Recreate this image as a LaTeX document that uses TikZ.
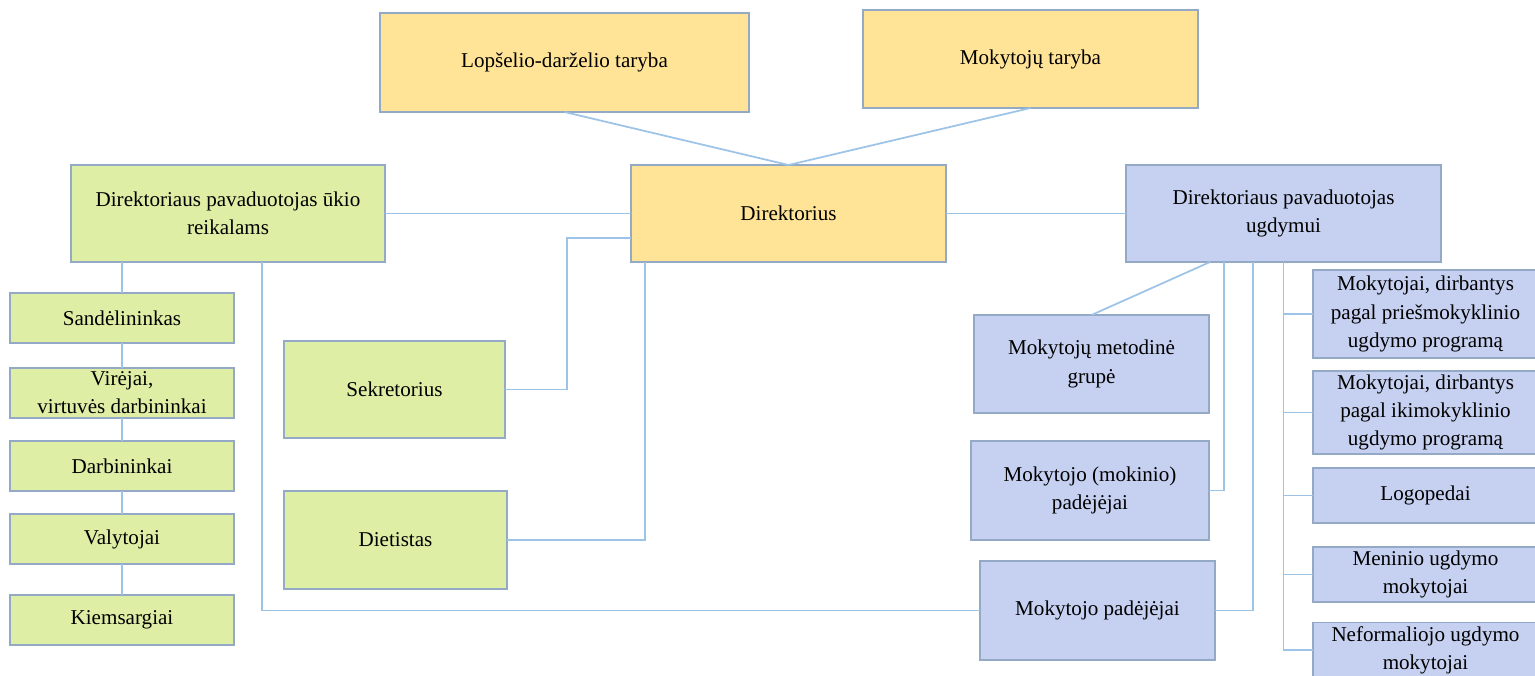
\documentclass[tikz,border=0pt]{standalone}
\usepackage{fontspec}
\setmainfont{Liberation Serif}
\newfontfamily\orgfont{Liberation Serif}
\usepackage{tikz}
\usetikzlibrary{positioning}
\usetikzlibrary{calc}
\definecolor{gold}{HTML}{FFE497}
\definecolor{lime}{HTML}{DEEEA5}
\definecolor{lilac}{HTML}{C6D1F1}
\definecolor{edge}{HTML}{93A9C6}
\definecolor{wire}{HTML}{9DC3E6}
\tikzset{
	every node/.style={align=center,outer sep=0pt,font=\orgfont\fontsize{12}{16}\selectfont},
	unit/.style={rectangle, draw=edge, line width=0.8pt, inner sep=2pt},
	head/.style={unit, fill=gold},
	farm/.style={unit, fill=lime},
	edu/.style={unit, fill=lilac},
	link/.style={draw=wire, line width=1pt}
}
\begin{document}
\begin{tikzpicture}
			\useasboundingbox (0,0) rectangle (30.7,-13.5);
			% Top
			\node (lop) [head, minimum width=7.38cm, minimum height=1.98cm] at (11.29,-1.25) {Lopšelio-darželio taryba};
			\node (mtar) [head, minimum width=6.7cm, minimum height=1.96cm] at (20.61,-1.18) {Mokytojų taryba};
			\node (dir) [head, minimum width=6.3cm, minimum height=1.94cm] at (15.77,-4.27) {Direktorius};
			\node (ukio) [farm, minimum width=6.28cm, minimum height=1.94cm] at (4.56,-4.27) {Direktoriaus pavaduotojas ūkio\\reikalams};
			\node (ugd) [edu, minimum width=6.3cm, minimum height=1.94cm] at (25.67,-4.27) {Direktoriaus pavaduotojas\\ugdymui};
			
			% Left column
			\node (sand) [farm, minimum width=4.48cm, minimum height=1cm] at (2.44,-6.36) {Sandėlininkas};
			\node (vir) [farm, minimum width=4.48cm, minimum height=1cm] at (2.44,-7.86) {Virėjai,\\virtuvės darbininkai};
			\node (darb) [farm, minimum width=4.48cm, minimum height=1cm] at (2.44,-9.32) {Darbininkai};
			\node (valy) [farm, minimum width=4.48cm, minimum height=1cm] at (2.44,-10.78) {Valytojai};
			\node (kiem) [farm, minimum width=4.48cm, minimum height=1cm] at (2.44,-12.4) {Kiemsargiai};
			\node (sekr) [farm, minimum width=4.42cm, minimum height=1.94cm] at (7.89,-7.79) {Sekretorius};
			\node (diet) [farm, minimum width=4.46cm, minimum height=1.96cm] at (7.91,-10.8) {Dietistas};
			
			% Right side
			\node (met) [edu, minimum width=4.7cm, minimum height=1.96cm] at (21.83,-7.28) {Mokytojų metodinė\\grupė};
			\node (mokin) [edu, minimum width=4.76cm, minimum height=1.98cm] at (21.8,-9.81) {Mokytojo (mokinio)\\padėjėjai};
			\node (mpad) [edu, minimum width=4.7cm, minimum height=1.98cm] at (21.95,-12.21) {Mokytojo padėjėjai};
			\node (pries) [edu, minimum width=4.5cm, minimum height=1.76cm] at (28.51,-6.28) {Mokytojai, dirbantys\\pagal priešmokyklinio\\ugdymo programą};
			\node (ikim) [edu, minimum width=4.5cm, minimum height=1.66cm] at (28.51,-8.25) {Mokytojai, dirbantys\\pagal ikimokyklinio\\ugdymo programą};
			\node (logo) [edu, minimum width=4.5cm, minimum height=1.1cm] at (28.51,-9.91) {Logopedai};
			\node (men) [edu, minimum width=4.5cm, minimum height=1.1cm] at (28.51,-11.49) {Meninio ugdymo\\mokytojai};
			\node (nef) [edu, minimum width=4.5cm, minimum height=1.1cm] at (28.51,-13.0) {Neformaliojo ugdymo\\mokytojai};
			
			\path[link] (lop.south) -- (dir.north);
			\path[link] (mtar.south) -- (dir.north);
			\path[link] (ukio.east) -- (dir.west);
			\path[link] (dir.east) -- (ugd.west);
			
			\path[link] (ukio.south -| sand.north) -- (sand.north);
			\path[link] (sand.south) -- (vir.north);
			\path[link] (vir.south) -- (darb.north);
			\path[link] (darb.south) -- (valy.north);
			\path[link] (valy.south) -- (kiem.north);
			\path[link] ([xshift=0.68cm]ukio.south) |- (mpad.west);
			\path[link] (sekr.east) -- ++(1.24,0) |- ([yshift=-0.49cm]dir.west);
			\path[link] (diet.east) -| ([xshift=-2.87cm]dir.south);
			
			\path[link] ([xshift=-1.47cm]ugd.south) -- (met.north);
			\path[link] ([xshift=-1.19cm]ugd.south) |- (mokin.east);
			\path[link] ([xshift=-0.61cm]ugd.south) |- (mpad.east);
			\path[link] (ugd.south) |- (pries.west);
			\path[link] (ugd.south) |- (ikim.west);
			\path[link] (ugd.south) |- (logo.west);
			\path[link] (ugd.south) |- (men.west);
			\path[link] (ugd.south) |- (nef.west);
			
		\end{tikzpicture}
\end{document}
